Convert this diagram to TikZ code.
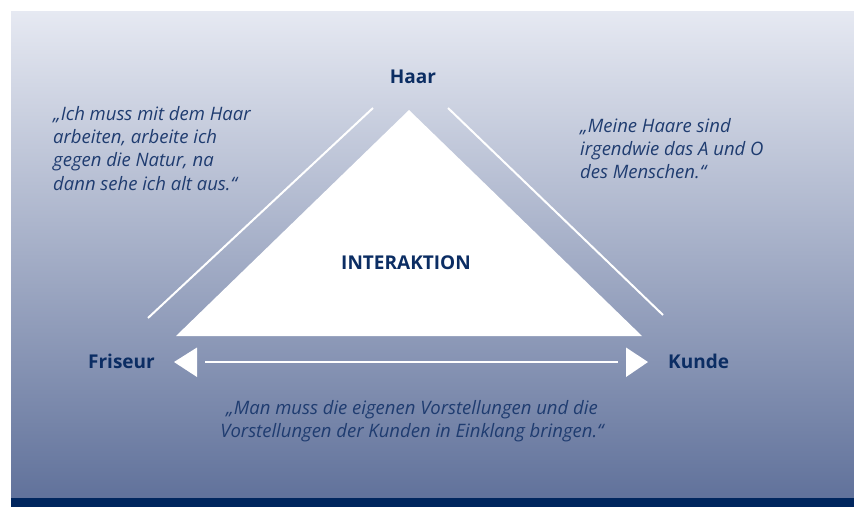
\documentclass[tikz,border=0pt]{standalone}
\usepackage{fontspec}
\setmainfont{Open Sans}
\definecolor{bgtop}{HTML}{E6E9F2}
\definecolor{bgbot}{HTML}{61729B}
\definecolor{darkbar}{HTML}{00265E}
\definecolor{quotec}{HTML}{1F3C70}
\definecolor{labelc}{HTML}{0B2D63}
\tikzset{
  quote/.style={text=quotec, font=\fontsize{18.5}{23.3}\selectfont\itshape, inner sep=0pt},
  label/.style={text=labelc, font=\fontsize{19}{22}\selectfont\bfseries, inner sep=0pt},
  wline/.style={draw=white, line width=2pt},
}
\begin{document}
\begin{tikzpicture}[x=1pt,y=-1pt]
\useasboundingbox (0,0) rectangle (854,507);
\shade[top color=bgtop, bottom color=bgbot] (11,11) rectangle (854,498);
\fill[darkbar] (11,498) rectangle (854,507);
% triangle
\fill[white] (409,110) coordinate (apex) -- (642,336) coordinate (br) -- (176,336) coordinate (bl) -- cycle;
\node[label, font=\fontsize{19}{22}\selectfont\bfseries] (inter) at (406,263) {INTERAKTION};
% labels
\node[label] (haar) at (413,77) {Haar};
\node[label, anchor=east] (fris) at (155,361) {Friseur};
\node[label, anchor=west] (kunde) at (668,361) {Kunde};
% side lines
\coordinate (l1) at (148,318); \coordinate (l2) at (373,108);
\coordinate (r1) at (448,108); \coordinate (r2) at (663,315);
\draw[wline] (l1) -- (l2);
\draw[wline] (r1) -- (r2);
% arrow
\coordinate (al) at (205,362); \coordinate (ar) at (618,362);
\draw[wline] (al) -- (ar);
\fill[white] (174,362) -- (197,347.5) -- (197,377) -- cycle;
\fill[white] (648,362) -- (626,347.5) -- (626,377) -- cycle;
% quotes
\node[quote, anchor=north west, align=left] (q1) at (53,106) {„Ich muss mit dem Haar\\arbeiten, arbeite ich\\gegen die Natur, na\\dann sehe ich alt aus.“};
\node[quote, anchor=north west, align=left] (q2) at (580,118) {„Meine Haare sind\\irgendwie das A und O\\des Menschen.“};
\node[quote, anchor=north, align=center] (q3) at (412,400) {„Man muss die eigenen Vorstellungen und die\\Vorstellungen der Kunden in Einklang bringen.“};
\end{tikzpicture}
\end{document}
